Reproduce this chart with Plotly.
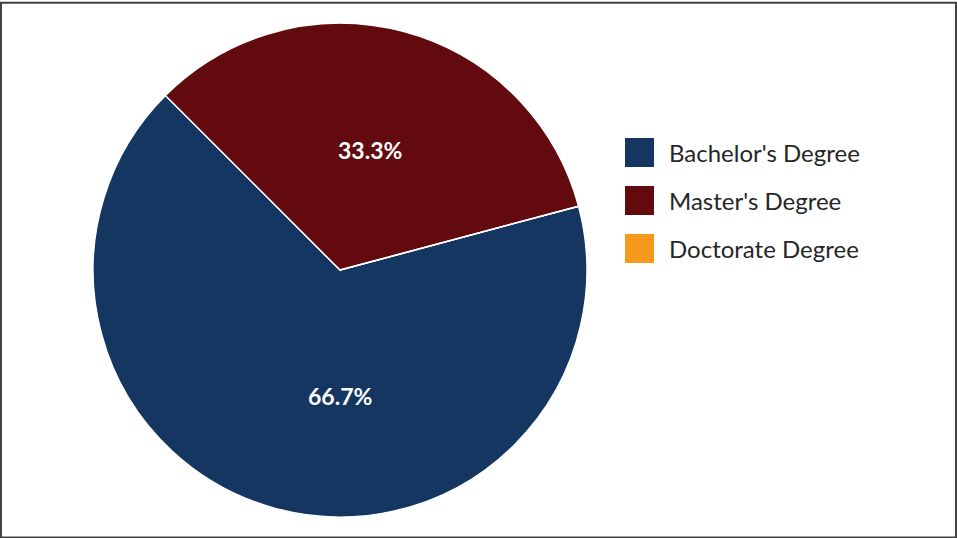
import plotly.graph_objects as go

# Degree distribution
categories = ["Bachelor's Degree", "Master's Degree", "Doctorate Degree"]
counts = [2, 1, 0]
colors = ["#143661", "#630A0E", "#F7991D"]

W, H = 957, 538
total = sum(counts)

fig = go.Figure()

fig.add_trace(go.Pie(
    labels=categories,
    values=counts,
    marker=dict(colors=colors, line=dict(color="white", width=1.5)),
    sort=False,
    direction="clockwise",
    rotation=75,
    textinfo="none",
    domain=dict(x=[0.0972, 0.6134], y=[0.039, 0.957]),
    showlegend=False,
    hoverinfo="label+percent",
))

# Percentage labels inside the non-empty slices
label_pos = {0: (340, 396), 1: (370, 150)}
for i, (x, y) in label_pos.items():
    fig.add_annotation(
        xref="paper", yref="paper",
        x=x / W, y=1 - y / H, xanchor="center", yanchor="middle",
        text="<b>{:.1f}%</b>".format(100 * counts[i] / total),
        showarrow=False,
        font=dict(family="Lato", size=23, color="white"),
    )

# Custom legend with large square swatches
legend_x0 = 625
legend_y0 = 138
swatch = 29
step = 48
for i, (name, col) in enumerate(zip(categories, colors)):
    top = legend_y0 + i * step
    fig.add_shape(
        type="rect", xref="paper", yref="paper",
        x0=legend_x0 / W, x1=(legend_x0 + swatch) / W,
        y0=1 - (top + swatch) / H, y1=1 - top / H,
        fillcolor=col, line=dict(width=0),
    )
    fig.add_annotation(
        xref="paper", yref="paper",
        x=667 / W, y=1 - (top + swatch / 2) / H,
        xanchor="left", yanchor="middle",
        text=name, showarrow=False,
        font=dict(family="Lato", size=24, color="#262626"),
    )

# Outer frame
fig.add_shape(
    type="rect", xref="paper", yref="paper",
    x0=0.001, x1=0.999, y0=0.001, y1=0.995,
    line=dict(color="#404040", width=2), fillcolor="rgba(0,0,0,0)",
)

fig.update_layout(
    width=W, height=H,
    margin=dict(l=0, r=0, t=0, b=0),
    paper_bgcolor="white",
    plot_bgcolor="white",
)

fig.write_html("out.html")
